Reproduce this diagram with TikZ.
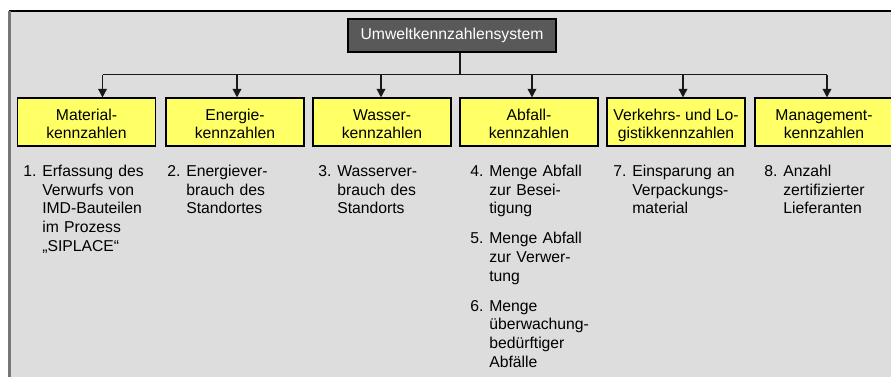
\documentclass[tikz,border=0pt]{standalone}
\usepackage{fontspec}
\setmainfont{Liberation Sans}
\usetikzlibrary{arrows.meta}
\definecolor{bggray}{HTML}{DDDDDD}
\definecolor{yel}{HTML}{FFFF66}
\definecolor{darkbox}{HTML}{595959}
\definecolor{leftedge}{HTML}{777777}
\newcommand\itm[2]{\hangindent=14.25pt\hangafter=1\noindent\makebox[14.25pt][l]{#1}#2\par}
\newcommand\kt[2]{\rule{0pt}{13.95pt}#1\\#2\rule[-3pt]{0pt}{3pt}}
\tikzset{
  katbox/.style={draw=black, line width=0.8pt, fill=yel, minimum width=103.5pt,
    minimum height=36pt, inner sep=0pt, align=center,
    font=\fontsize{11.8pt}{13.2pt}\selectfont},
  topbox/.style={draw=black, line width=0.8pt, fill=darkbox, text=white,
    minimum width=156pt, minimum height=24.75pt, inner sep=0pt,
    font=\fontsize{11.8pt}{13.2pt}\selectfont},
  itembox/.style={anchor=base west, inner sep=0pt, text width=100pt,
    font=\fontsize{11.8pt}{14pt}\selectfont},
  bus/.style={line width=1.1pt, draw=black!90},
  arr/.style={bus, -{Triangle[length=6.5pt,width=6.5pt]}}
}
\begin{document}
\begin{tikzpicture}[x=0.75pt,y=-0.75pt]
\useasboundingbox (0,0) rectangle (891,376);
\clip (0,0) rectangle (891,376);
\fill[white] (0,0) rectangle (891,376);
\fill[bggray] (10,11) rectangle (900,390);
\draw[black, line width=0.8pt] (9,11) -- (900,11);
\draw[leftedge, line width=1.6pt] (9.5,11) -- (9.5,390);

\node[topbox] (top) at (452,35.5) {Umweltkennzahlensystem};

\node[katbox] (k1) at (86.5,122) {\kt{Material-}{kennzahlen}};
\node[katbox] (k2) at (235,122) {\kt{Energie-}{kennzahlen}};
\node[katbox] (k3) at (382,122) {\kt{Wasser-}{kennzahlen}};
\node[katbox] (k4) at (529,122) {\kt{Abfall-}{kennzahlen}};
\node[katbox] (k5) at (676,122) {\kt{Verkehrs- und Lo-}{gistikkennzahlen}};
\node[katbox] (k6) at (824,122) {\kt{Management-}{kennzahlen}};

\coordinate (t) at (460,74.5);
\coordinate (a1) at (102.5,74.5);
\coordinate (a2) at (237,74.5);
\coordinate (a3) at (381,74.5);
\coordinate (a4) at (532,74.5);
\coordinate (a5) at (683,74.5);
\coordinate (a6) at (827,74.5);

\draw[bus] (top.south -| t) -- (t);
\draw[bus] (a1) -- (a6);
\foreach \i in {1,...,6}{
  \draw[arr] (a\i) -- (a\i |- k\i.north);
}

\node[itembox] (l1) at (23,176.5) {\itm{1.}{Erfassung des\newline Verwurfs von\newline IMD-Bauteilen\newline im Prozess\newline „SIPLACE“}};
\node[itembox] (l2) at (167,176.5) {\itm{2.}{Energiever-\newline brauch des\newline Standortes}};
\node[itembox] (l3) at (318,176.5) {\itm{3.}{Wasserver-\newline brauch des\newline Standorts}};
\node[itembox] (l4) at (470,176.5) {\itm{4.}{Menge Abfall\newline zur Besei-\newline tigung}\vspace{8.5pt}\itm{5.}{Menge Abfall\newline zur Verwer-\newline tung}\vspace{8.5pt}\itm{6.}{Menge\newline überwachung-\newline bedürftiger\newline Abfälle}};
\node[itembox] (l5) at (613,176.5) {\itm{7.}{Einsparung an\newline Verpackungs-\newline material}};
\node[itembox] (l6) at (764,176.5) {\itm{8.}{Anzahl\newline zertifizierter\newline Lieferanten}};
\end{tikzpicture}
\end{document}
